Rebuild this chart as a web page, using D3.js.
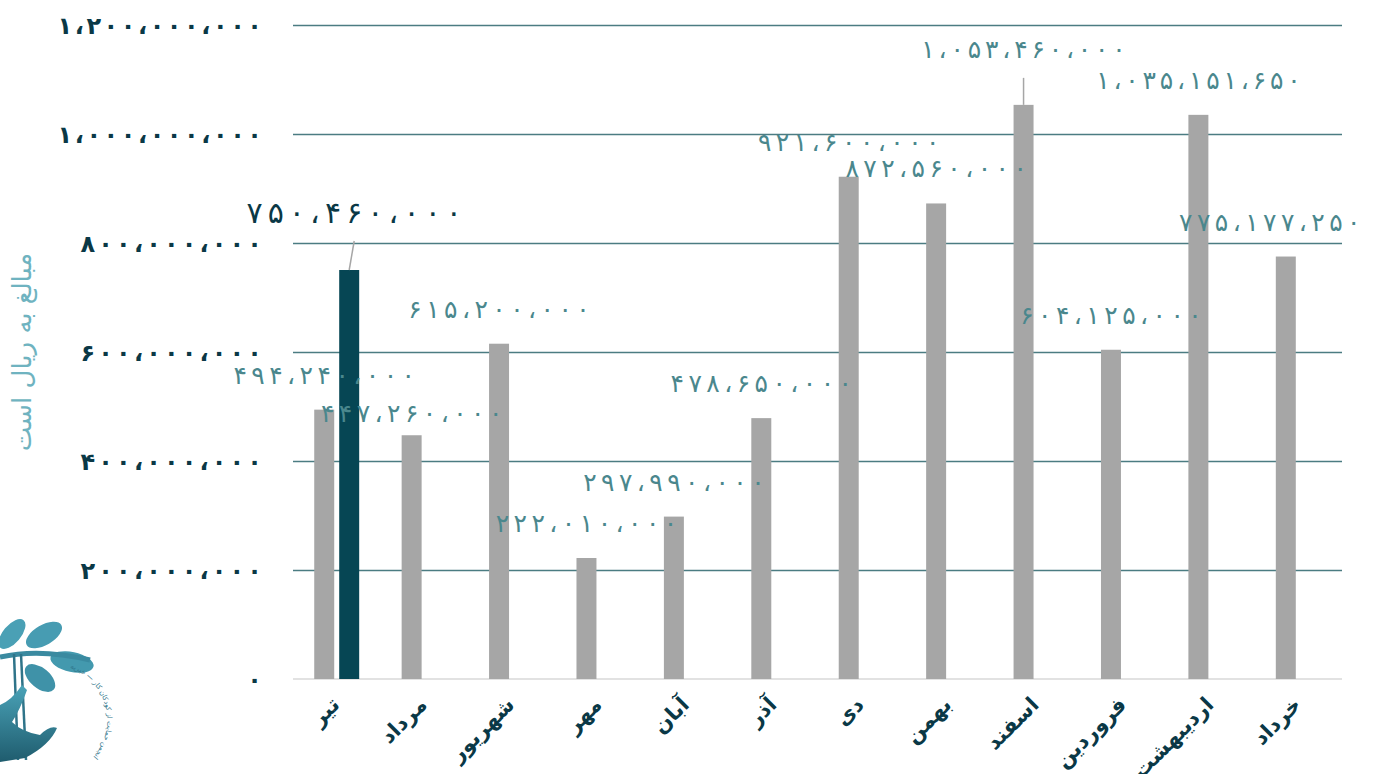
<!DOCTYPE html>
<html>
<head>
<meta charset="utf-8">
<script src="https://cdn.jsdelivr.net/npm/d3@7"></script>
<style>
  html, body { margin: 0; padding: 0; background: #ffffff; }
  svg { display: block; }
  text { font-family: "DejaVu Sans", sans-serif; }
</style>
</head>
<body>
<svg id="chart" width="1375" height="774"></svg>
<script>
// ---- data ----
const months = ["تیر", "مرداد", "شهریور", "مهر", "آبان", "آذر", "دی", "بهمن", "اسفند", "فروردین", "اردیبهشت", "خرداد"];
const seriesKeys = ["main", "highlight"];
const mainValues = [494240000, 447260000, 615200000, 222010000, 297990000, 478650000, 921600000, 872560000, 1053460000, 604125000, 1035151650, 775177250];
const highlightValues = [750460000, null, null, null, null, null, null, null, null, null, null, null];
const yTickValues = [0, 200000000, 400000000, 600000000, 800000000, 1000000000, 1200000000];
const yTitle = "مبالغ به ریال است";

// ---- helpers ----
const faDigits = "۰۱۲۳۴۵۶۷۸۹";
const fa = n => d3.format(",")(n).replace(/,/g, "،").replace(/\d/g, d => faDigits[+d]);
const trackLen = n => 55 + 11.5 * n;   // wide tracking (letter-spacing is ignored for Arabic script)

const svg = d3.select("#chart");
const pLeft = 293, pRight = 1342, pTop = 25, pBottom = 679;

const x0 = d3.scaleBand().domain(months).range([pLeft, pRight]).padding(0);
const x1 = d3.scaleBand().domain(seriesKeys).range([0, x0.bandwidth()]).paddingInner(0.2).paddingOuter(0.85);
const y = d3.scaleLinear().domain([0, 1200000000]).range([pBottom, pTop]);

// gridlines
const grid = svg.append("g").attr("transform", `translate(${pLeft},0)`)
  .call(d3.axisLeft(y).tickValues(yTickValues.slice(1)).tickSize(-(pRight - pLeft)).tickFormat(""));
grid.select(".domain").remove();
grid.selectAll("line").attr("stroke", "#4b7c82").attr("stroke-width", 1.6);

// baseline
svg.append("line").attr("x1", pLeft).attr("x2", pRight).attr("y1", y(0)).attr("y2", y(0))
  .attr("stroke", "#d9d9d9").attr("stroke-width", 1.6);

// y axis labels
const yAxis = svg.append("g").attr("transform", `translate(${pLeft},0)`)
  .call(d3.axisLeft(y).tickValues(yTickValues).tickSize(0).tickPadding(31).tickFormat(fa));
yAxis.select(".domain").remove();
yAxis.selectAll("text")
  .attr("fill", "#0a3846").attr("font-size", 24).attr("font-weight", "bold")
  .attr("dy", "0.36em")
  .each(function () {
    const t = d3.select(this);
    const n = t.text().length;
    if (n > 1) t.attr("textLength", trackLen(n)).attr("lengthAdjust", "spacing");
  });

// bars
const rows = months.map((m, i) => ({ m, main: mainValues[i], highlight: highlightValues[i] }));
const colors = { main: "#a6a6a6", highlight: "#064654" };
const barData = [];
rows.forEach(r => seriesKeys.forEach(k => { if (r[k] != null) barData.push({ m: r.m, k, v: r[k] }); }));

svg.append("g").selectAll("rect").data(barData).join("rect")
  .attr("x", d => x0(d.m) + x1(d.k))
  .attr("width", x1.bandwidth())
  .attr("y", d => y(d.v))
  .attr("height", d => y(0) - y(d.v))
  .attr("fill", d => colors[d.k]);

// data labels (layout nudges keyed by category/series)
const nudge = { "مرداد|main": [0, 13], "اسفند|main": [0, -21], "خرداد|main": [-16, 0], "تیر|highlight": [5, -23] };
const leaders = { "اسفند|main": true, "تیر|highlight": true };
const lbl = svg.append("g");
barData.forEach(d => {
  const key = d.m + "|" + d.k;
  const [dx, dy] = nudge[key] || [0, 0];
  const cx = x0(d.m) + x1(d.k) + x1.bandwidth() / 2;
  const ty = y(d.v) - 35 + dy;
  const hi = d.k === "highlight";
  const txt = fa(d.v);
  if (leaders[key]) {
    lbl.append("line")
      .attr("x1", cx).attr("y1", y(d.v))
      .attr("x2", cx + dx).attr("y2", ty + 29)
      .attr("stroke", "#a6a6a6").attr("stroke-width", 1.5);
  }
  lbl.append("text")
    .attr("x", cx + dx).attr("y", ty)
    .attr("text-anchor", "middle").attr("dy", "0.36em")
    .attr("fill", hi ? "#0a3846" : "#4a878d")
    .attr("font-size", hi ? 30 : 25)
    .attr("textLength", hi ? txt.length * 19.6 : trackLen(txt.length)).attr("lengthAdjust", "spacing")
    .text(txt);
});

// x axis labels
const xAxis = svg.append("g").attr("transform", `translate(0,${pBottom})`)
  .call(d3.axisBottom(x0).tickSize(0).tickPadding(0));
xAxis.select(".domain").remove();
xAxis.selectAll("text")
  .attr("fill", "#0a3846").attr("font-size", 21).attr("font-weight", "bold")
  .attr("text-anchor", "end").attr("dy", null).attr("y", 0)
  .attr("transform", "translate(4,27) rotate(-45)");

// y title
svg.append("text")
  .attr("transform", "translate(22,352) rotate(-90)")
  .attr("text-anchor", "middle").attr("dy", "0.36em")
  .attr("fill", "#6fb3c0").attr("font-size", 26)
  .text(yTitle);

// logo (decorative)
const defs = svg.append("defs");
const gr = defs.append("linearGradient").attr("id", "lg").attr("x1", 0).attr("y1", 0).attr("x2", 0).attr("y2", 1);
gr.append("stop").attr("offset", 0).attr("stop-color", "#4aa3b8");
gr.append("stop").attr("offset", 1).attr("stop-color", "#1f5c6e");
const logo = svg.append("g").attr("transform", "translate(0,610)");
const leaf = (cx, cy, rx, ry, rot, c) => logo.append("ellipse")
  .attr("cx", cx).attr("cy", cy).attr("rx", rx).attr("ry", ry)
  .attr("transform", `rotate(${rot},${cx},${cy})`).attr("fill", c);
leaf(12, 24, 18, 9, -50, "#4aa0b5");
leaf(44, 25, 20, 10, -30, "#479cb2");
leaf(72, 52, 22, 10, 12, "#4399ae");
leaf(40, 68, 18, 10, 40, "#3f92a8");
logo.append("path").attr("d", "M0,47 Q40,38 90,50").attr("stroke", "#3a8aa0").attr("stroke-width", 5).attr("fill", "none");
logo.append("line").attr("x1", 14).attr("y1", 44).attr("x2", 18).attr("y2", 150).attr("stroke", "#2f7489").attr("stroke-width", 2.5);
logo.append("line").attr("x1", 21).attr("y1", 44).attr("x2", 26).attr("y2", 150).attr("stroke", "#2f7489").attr("stroke-width", 2.5);
logo.append("path").attr("d", "M0,95 Q12,90 22,75 L27,80 Q20,100 12,112 Q22,122 40,125 Q50,115 57,118 Q50,135 25,148 L0,152 Z").attr("fill", "url(#lg)");
logo.append("path").attr("id", "logoArc").attr("d", "M70,58 A55,55 0 0,1 55,165").attr("fill", "none");
logo.append("text").attr("font-size", 7).attr("fill", "#2f7489")
  .append("textPath").attr("href", "#logoArc").text("انجمن حمایت از کودکان کار — خیریه");
</script>
</body>
</html>
